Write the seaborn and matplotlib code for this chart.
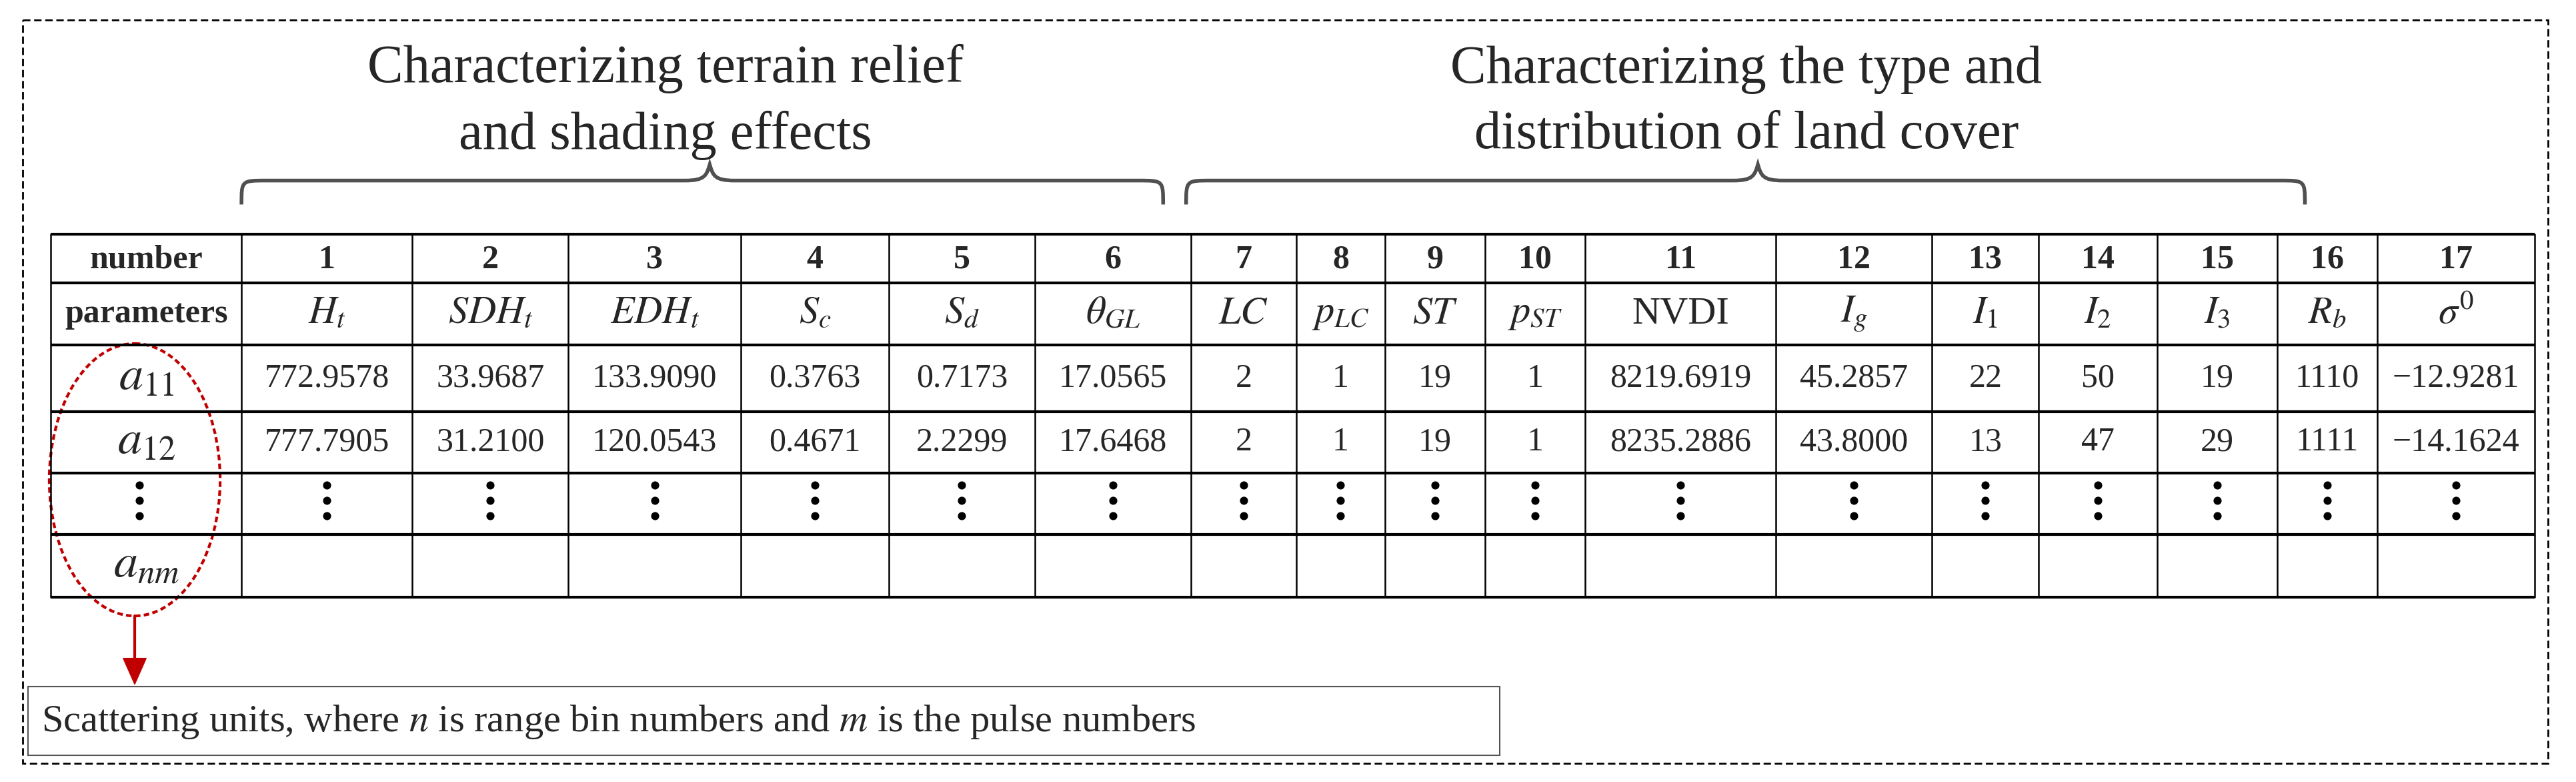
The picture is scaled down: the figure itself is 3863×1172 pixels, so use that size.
import numpy as np
import matplotlib.pyplot as plt
import seaborn as sns
from matplotlib.path import Path
from matplotlib.patches import PathPatch, Ellipse, Rectangle, FancyArrow

# data
numbers = [str(i) for i in range(1, 18)]
params = [r'$H_t$', r'$SDH_t$', r'$EDH_t$', r'$S_c$', r'$S_d$', r'$\theta_{GL}$',
          r'$LC$', r'$p_{LC}$', r'$ST$', r'$p_{ST}$', 'NVDI', r'$I_g$',
          r'$I_1$', r'$I_2$', r'$I_3$', r'$R_b$', r'$\sigma^0$']
row_a11 = ['772.9578', '33.9687', '133.9090', '0.3763', '0.7173', '17.0565', '2', '1', '19', '1',
           '8219.6919', '45.2857', '22', '50', '19', '1110', '\u221212.9281']
row_a12 = ['777.7905', '31.2100', '120.0543', '0.4671', '2.2299', '17.6468', '2', '1', '19', '1',
           '8235.2886', '43.8000', '13', '47', '29', '1111', '\u221214.1624']
row_labels = ['number', 'parameters', r'$a_{11}$', r'$a_{12}$', '', r'$a_{nm}$']
group_titles = ['Characterizing terrain relief\nand shading effects',
                'Characterizing the type and\ndistribution of land cover']

sns.set_theme(style="white")
plt.rcParams['font.family'] = ['Liberation Serif', 'DejaVu Serif']
plt.rcParams['mathtext.fontset'] = 'stix'

fig = plt.figure(figsize=(38.63, 11.72), dpi=100)
ax = fig.add_axes([0, 0, 1, 1])
ax.set_xlim(0, 1568)
ax.set_ylim(1568, 0)
ax.axis('off')

# layout (in a 1568 x 1568 frame stretched to the figure)
xb = [31, 147, 251, 346, 451, 541, 630, 725, 789, 843, 904, 965, 1081, 1176, 1241, 1313, 1386, 1447, 1543]
yb = [470, 567, 692, 826, 948, 1071, 1197]
xc = [(xb[i] + xb[i + 1]) / 2 for i in range(len(xb) - 1)]
yc = [(yb[i] + yb[i + 1]) / 2 for i in range(len(yb) - 1)]

# outer dashed border
ax.add_patch(Rectangle((14, 40), 1537, 1490, fill=False, ec='black', lw=2, ls=(0, (4, 2))))

# grid
for y in yb:
    ax.plot([xb[0], xb[-1]], [y, y], color='black', lw=3, solid_capstyle='butt')
for x in xb:
    ax.plot([x, x], [yb[0], yb[-1]], color='black', lw=1.8)

fs = 36
# header rows
ax.text(xc[0], yc[0] + 3, row_labels[0], ha='center', va='center', fontsize=fs, fontweight='bold')
ax.text(xc[0], yc[1], row_labels[1], ha='center', va='center', fontsize=fs, fontweight='bold')
for i in range(17):
    ax.text(xc[i + 1], yc[0] + 3, numbers[i], ha='center', va='center', fontsize=fs, fontweight='bold')
    ax.text(xc[i + 1], yc[1], params[i], ha='center', va='center', fontsize=fs + 6)
    ax.text(xc[i + 1], yc[2], row_a11[i], ha='center', va='center', fontsize=fs)
    ax.text(xc[i + 1], yc[3], row_a12[i], ha='center', va='center', fontsize=fs)
for r in (2, 3, 5):
    ax.text(xc[0], yc[r], row_labels[r], ha='center', va='center', fontsize=fs + 16)

# vertical ellipsis dots
dx = [xc[0] - 4] + xc[1:]
for x in dx:
    ax.scatter([x] * 3, [972, 1003, 1034], s=60, color='black', zorder=3)

# group titles
ax.text(405, 205, group_titles[0], ha='center', va='center', fontsize=58, linespacing=1.45)
ax.text(1063, 205, group_titles[1], ha='center', va='center', fontsize=58, linespacing=1.45)


def brace(x0, x1, xt, ytop=330, ymid=362, ybot=410):
    verts = [(x0, ybot), (x0, ymid), (x0, ymid), (x0 + 15, ymid),
             (xt - 15, ymid), (xt - 3, ymid), (xt - 2, ymid - 10), (xt, ytop),
             (xt + 2, ymid - 10), (xt + 3, ymid), (xt + 15, ymid),
             (x1 - 15, ymid), (x1, ymid), (x1, ymid), (x1, ybot)]
    codes = [Path.MOVETO, Path.CURVE4, Path.CURVE4, Path.CURVE4,
             Path.LINETO, Path.CURVE4, Path.CURVE4, Path.CURVE4,
             Path.CURVE4, Path.CURVE4, Path.CURVE4,
             Path.LINETO, Path.CURVE4, Path.CURVE4, Path.CURVE4]
    ax.add_patch(PathPatch(Path(verts, codes), fill=False, ec='#505050', lw=4))


brace(147, 708, 432)
brace(722, 1403, 1070)

# red dotted ellipse and arrow
red = '#C00000'
ax.add_patch(Ellipse((82, 962), 104, 546, fill=False, ec=red, lw=3, ls=(0, (2, 1.2))))
ax.plot([82, 82], [1235, 1330], color=red, lw=3)
ax.add_patch(FancyArrow(82, 1320, 0, 52, width=0.1, head_width=14, head_length=52,
                        length_includes_head=True, color=red))

# note box
ax.add_patch(Rectangle((17, 1377), 896, 138, fill=False, ec='#555555', lw=1.5))
ax.text(25, 1448, r'Scattering units, where $n$ is range bin numbers and $m$ is the pulse numbers',
        ha='left', va='center', fontsize=42)

fig.savefig('out.png', dpi=100)
